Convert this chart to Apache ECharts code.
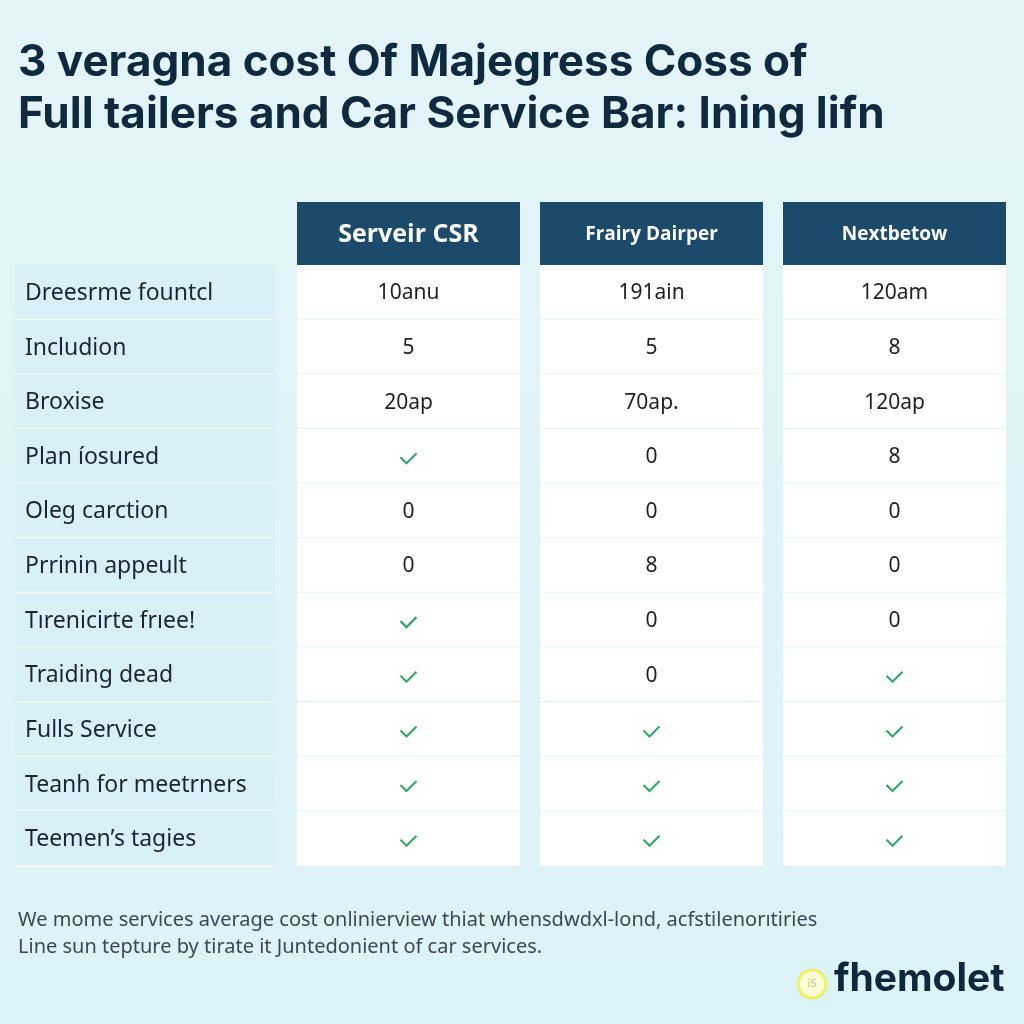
<!DOCTYPE html>
<html>
<head>
<meta charset="utf-8">
<script src="https://cdn.jsdelivr.net/npm/echarts@6/dist/echarts.min.js"></script>
<style>
  html, body { margin: 0; padding: 0; background: #dff3f7; }
  #chart { width: 1024px; height: 1024px; }
</style>
</head>
<body>
<div id="chart"></div>
<script>
// table content
var columns = ['Serveir CSR', 'Frairy Dairper', 'Nextbetow'];
var rowLabels = [
  'Dreesrme fountcl', 'Includion', 'Broxise', 'Plan íosured', 'Oleg carction',
  'Prrinin appeult', 'Tırenicirte frıee!', 'Traiding dead', 'Fulls Service',
  'Teanh for meetrners', 'Teemen’s tagies'
];
var colServeir = ['10anu', '5', '20ap', '✓', '0', '0', '✓', '✓', '✓', '✓', '✓'];
var colFrairy  = ['191ain', '5', '70ap.', '0', '0', '8', '0', '0', '✓', '✓', '✓'];
var colNext    = ['120am', '8', '120ap', '8', '0', '0', '0', '✓', '✓', '✓', '✓'];
var titleLines = [
  '3 veragna cost Of Majegress Coss of',
  'Full tailers and Car Service Bar: Ining lifn'
];
var footLines = [
  'We mome services average cost onlinierview thiat whensdwdxl-lond, acfstilenorıtiries',
  'Line sun tepture by tirate it Juntedonient of car services.'
];

var cells = [];
[colServeir, colFrairy, colNext].forEach(function (col, c) {
  col.forEach(function (v, r) { cells.push([c, r, v]); });
});
var labelCells = rowLabels.map(function (l, r) { return [0, r, l]; });

var myChart = echarts.init(document.getElementById('chart'));

function cellItem(params, api) {
  var p = api.coord([api.value(0), api.value(1)]);
  var s = api.size([1, 1]);
  var w = s[0] - 20, h = s[1];
  var x = p[0] - w / 2, y = p[1] - h / 2;
  var v = cells[params.dataIndex][2];
  var kids = [
    { type: 'rect', shape: { x: x, y: y, width: w, height: h }, style: { fill: '#ffffff' } }
  ];
  if (api.value(1) < rowLabels.length - 1) {
    kids.push({ type: 'line', shape: { x1: x, y1: y + h, x2: x + w, y2: y + h },
      style: { stroke: '#e8f3f6', lineWidth: 2 } });
  }
  if (v === '✓') {
    kids.push({ type: 'polyline',
      shape: { points: [[p[0] - 8, p[1] + 1], [p[0] - 2, p[1] + 7], [p[0] + 8, p[1] - 3]] },
      style: { stroke: '#3aa66f', lineWidth: 2.2, fill: null } });
  } else {
    kids.push({ type: 'text', x: p[0], y: p[1] + 1,
      style: { text: v, fill: '#1f1f1f', font: '21px "Noto Sans"', align: 'center', verticalAlign: 'middle' } });
  }
  return { type: 'group', children: kids };
}

function labelItem(params, api) {
  var p = api.coord([api.value(0), api.value(1)]);
  var s = api.size([1, 1]);
  var w = s[0], h = s[1];
  var x = p[0] - w / 2, y = p[1] - h / 2;
  return {
    type: 'group',
    children: [
      { type: 'rect', shape: { x: x, y: y, width: w, height: h }, style: { fill: '#d9f1f6' } },
      { type: 'line', shape: { x1: x, y1: y + h, x2: x + w, y2: y + h },
        style: { stroke: '#f2fafc', lineWidth: 2 } },
      { type: 'text', x: x + 10, y: p[1] + 1,
        style: { text: labelCells[params.dataIndex][2], fill: '#1a2733',
          font: '23px "Noto Sans"', align: 'left', verticalAlign: 'middle' } }
    ]
  };
}

var option = {
  backgroundColor: {
    type: 'linear', x: 0, y: 0, x2: 0, y2: 1,
    colorStops: [{ offset: 0, color: '#e3f5f9' }, { offset: 1, color: '#dcf3f7' }]
  },
  animation: false,
  grid: [
    { left: 15, top: 265, width: 260, height: 601 },
    { left: 287, top: 265, width: 729, height: 601 }
  ],
  xAxis: [
    { type: 'category', gridIndex: 0, data: ['label'], show: false },
    {
      type: 'category', gridIndex: 1, data: columns, position: 'top',
      axisLine: { show: false }, axisTick: { show: false }, splitLine: { show: false },
      axisLabel: {
        interval: 0, margin: 0,
        width: 223, height: 63, backgroundColor: '#1b4a6b',
        align: 'center', verticalAlign: 'bottom',
        formatter: function (v, i) { return i === 0 ? '{big|' + v + '}' : '{small|' + v + '}'; },
        rich: {
          big: { fontSize: 25, fontWeight: 'bold', color: '#ffffff', fontFamily: '"Open Sans"', lineHeight: 66, height: 63 },
          small: { fontSize: 19, fontWeight: 'bold', color: '#ffffff', fontFamily: '"Open Sans"', lineHeight: 66, height: 63 }
        }
      }
    }
  ],
  yAxis: [
    { type: 'category', gridIndex: 0, data: rowLabels, inverse: true, show: false },
    { type: 'category', gridIndex: 1, data: rowLabels, inverse: true, show: false }
  ],
  series: [
    { type: 'custom', xAxisIndex: 0, yAxisIndex: 0, data: labelCells, renderItem: labelItem, silent: true },
    { type: 'custom', xAxisIndex: 1, yAxisIndex: 1, data: cells, renderItem: cellItem, silent: true }
  ],
  graphic: [
    { type: 'text', left: 18, top: 41,
      style: { text: titleLines[0], fill: '#0f2a3e', font: 'bold 44px Inter' } },
    { type: 'text', left: 18, top: 93,
      style: { text: titleLines[1], fill: '#0f2a3e', font: 'bold 44px Inter' } },
    { type: 'text', left: 18, top: 910,
      style: { text: footLines[0], fill: '#3b4955', font: '20px "Noto Sans"' } },
    { type: 'text', left: 18, top: 937,
      style: { text: footLines[1], fill: '#3b4955', font: '20px "Noto Sans"' } },
    { type: 'circle', shape: { cx: 812, cy: 984, r: 14 },
      style: { fill: '#fbfbd6', stroke: '#eef06a', lineWidth: 3 } },
    { type: 'text', x: 812, y: 984,
      style: { text: 'i5', fill: '#c9c88a', font: '11px Roboto', align: 'center', verticalAlign: 'middle' } },
    { type: 'text', left: 834, top: 960,
      style: { text: 'fhemolet', fill: '#10283b', font: 'bold 39px Inter' } }
  ]
};

myChart.setOption(option);
</script>
</body>
</html>
